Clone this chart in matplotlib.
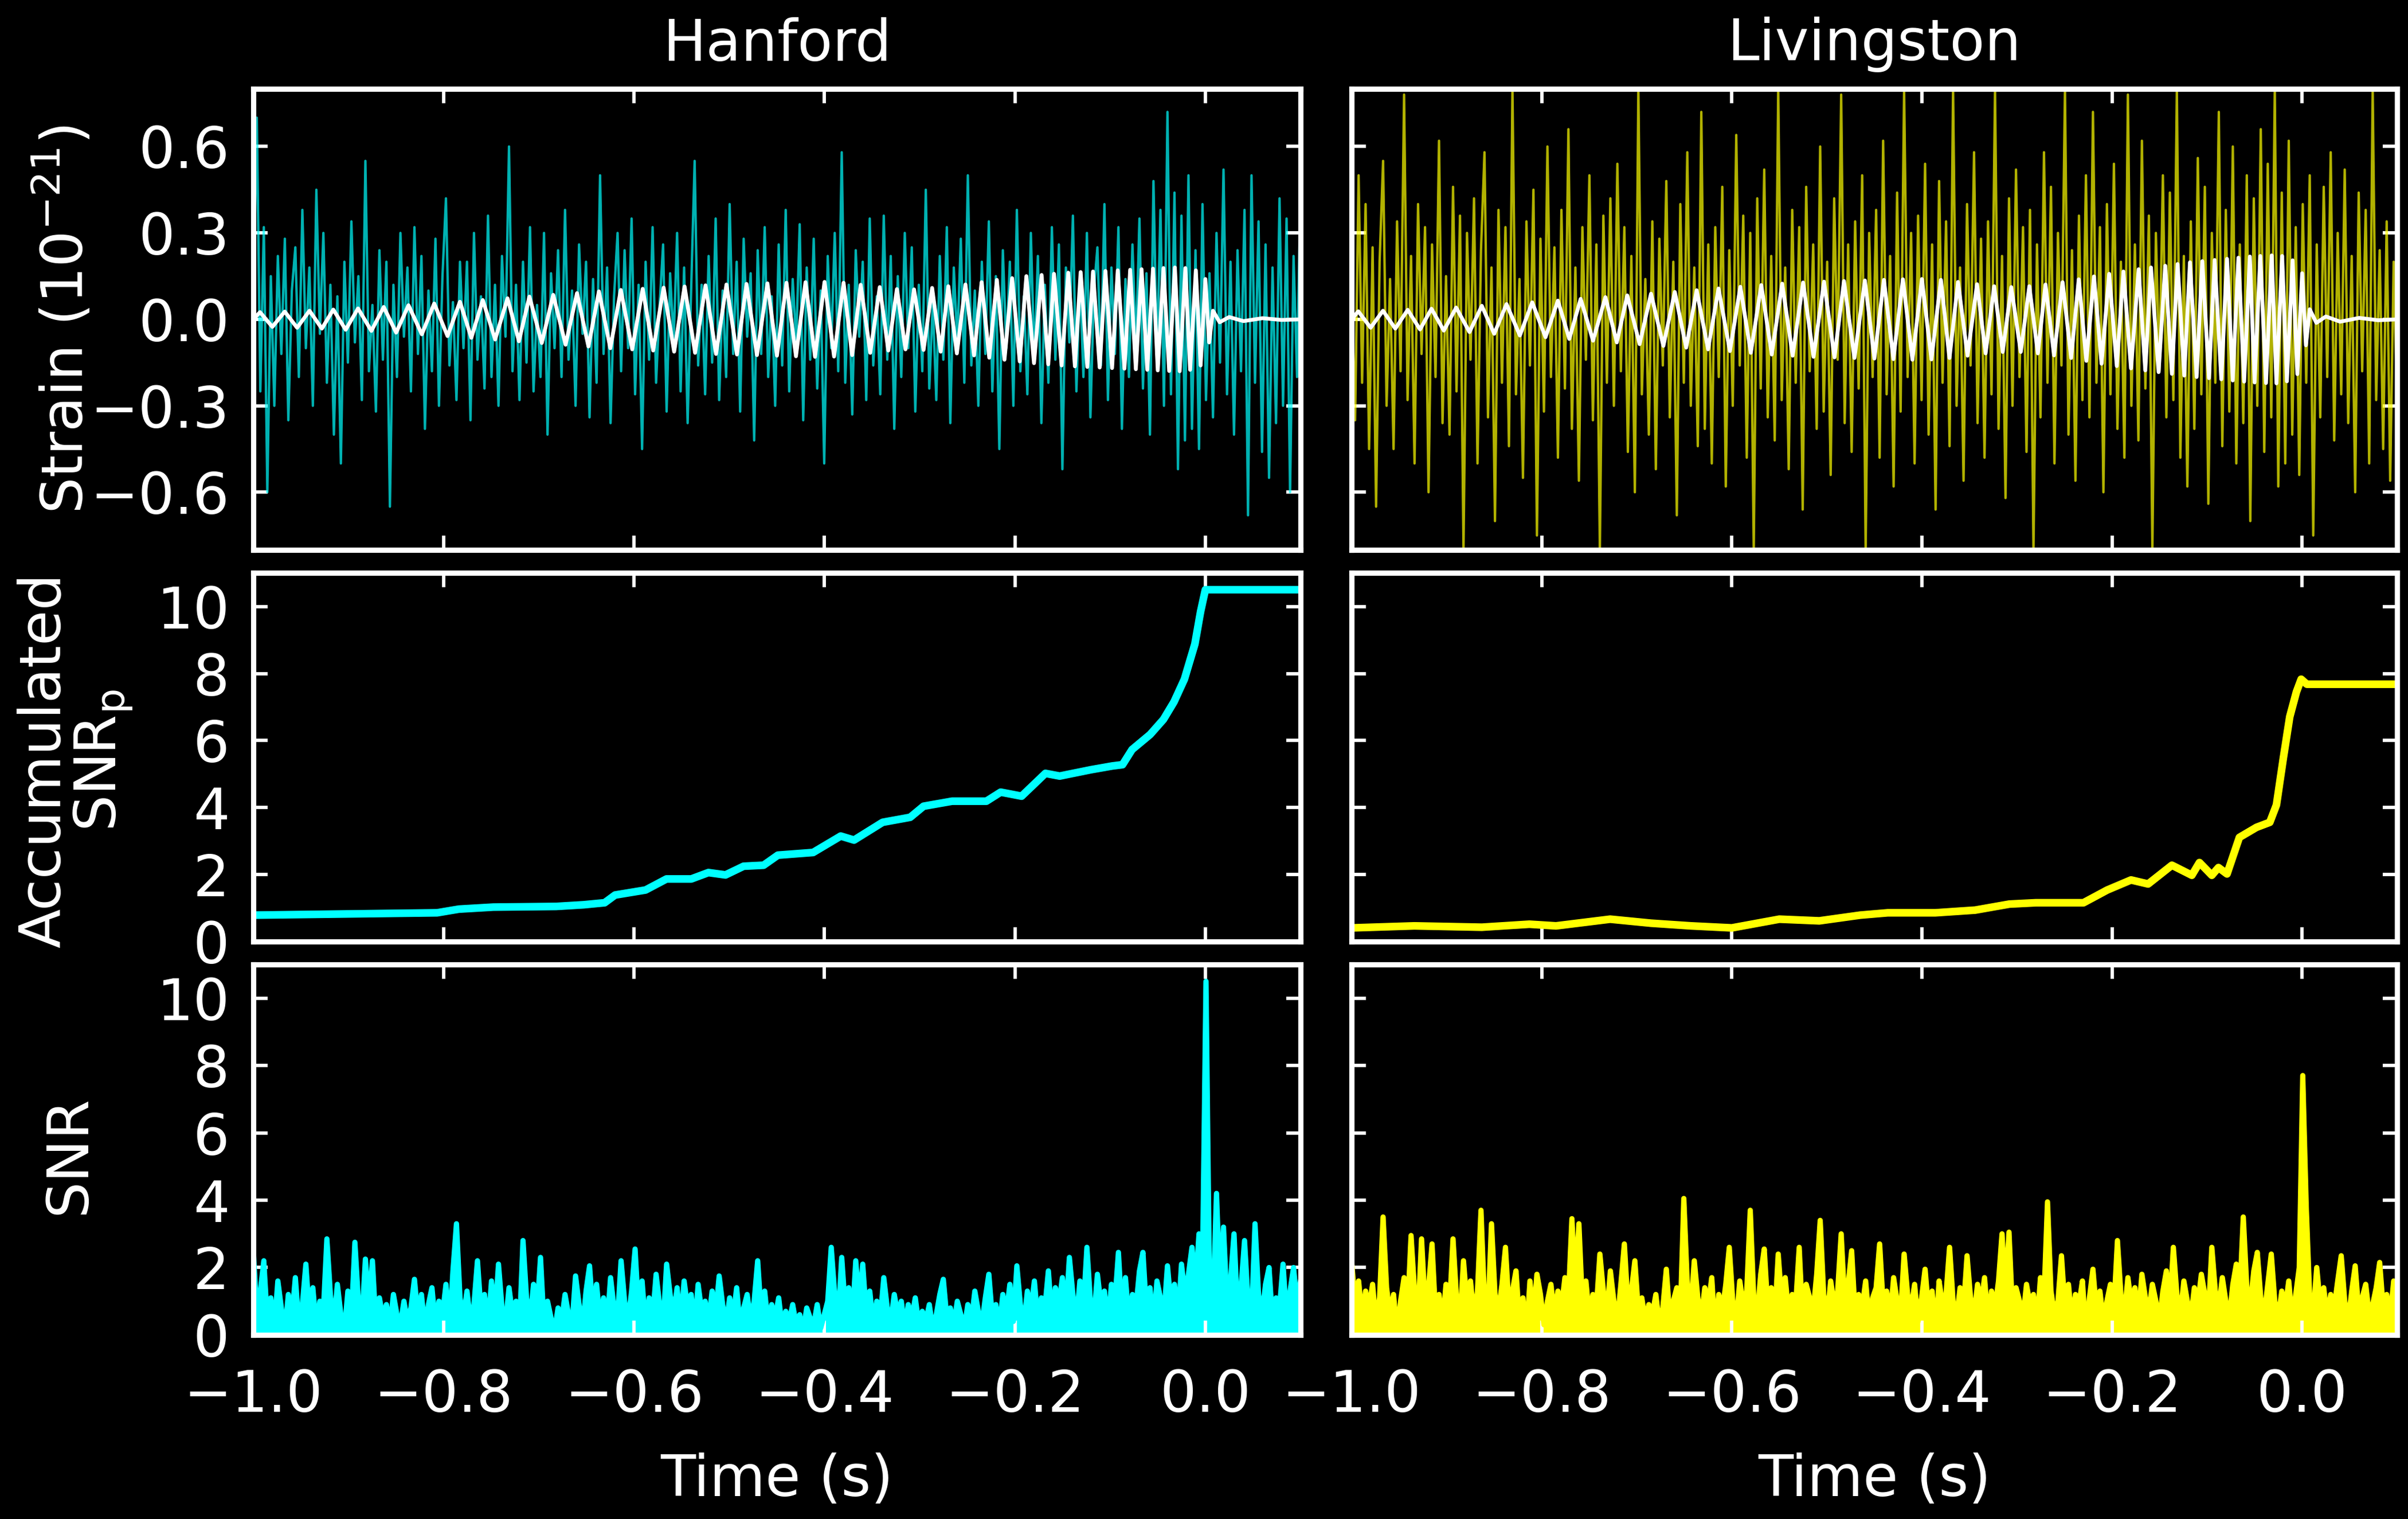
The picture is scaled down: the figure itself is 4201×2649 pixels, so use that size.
import numpy as np
import matplotlib
matplotlib.use("Agg")
import matplotlib.pyplot as plt

# ---- data ----
detectors = ["Hanford", "Livingston"]
colors = ["#00ffff", "#ffff00"]

# whitened strain (1e-21), sampled evenly over -1.0 .. 0.1 s
h_strain = [
    0.05, 0.7, -0.25, 0.32, -0.6, 0.15, -0.3, 0.22, -0.12, 0.28, -0.35, 0.1, 0.25, -0.2, 0.38,
    -0.1, 0.18, -0.3, 0.45, -0.05, 0.3, -0.22, 0.12, -0.4, 0.08, -0.5, 0.2, -0.15, 0.34, -0.08,
    0.15, -0.28, 0.55, -0.18, 0.05, -0.32, 0.24, -0.14, 0.2, -0.65, 0.12, -0.2, 0.3, -0.06, 0.18,
    -0.25, 0.32, -0.12, 0.22, -0.38, 0.1, -0.18, 0.28, -0.3, 0.15, 0.42, -0.16, 0.06, -0.28, 0.2,
    -0.1, 0.2, -0.35, 0.3, -0.14, 0.08, -0.24, 0.36, -0.2, 0.12, -0.3, 0.22, -0.06, 0.6, -0.18,
    0.12, -0.28, 0.2, -0.15, 0.32, -0.25, 0.05, -0.2, 0.3, -0.4, 0.16, -0.1, 0.24, -0.2, 0.38,
    -0.14, 0.1, -0.3, 0.26, -0.05, 0.2, -0.34, 0.14, -0.22, 0.5, -0.12, 0.18, -0.36, 0.08, 0.3,
    -0.18, 0.24, -0.1, 0.35, -0.26, 0.12, -0.45, 0.2, -0.14, 0.32, -0.22, 0.05, 0.26, -0.32, 0.16,
    -0.08, 0.3, -0.25, 0.18, -0.36, 0.1, 0.55, -0.16, 0.12, -0.26, 0.22, -0.15, 0.35, -0.28, 0.1,
    -0.2, 0.4, -0.12, 0.2, -0.32, 0.28, -0.06, 0.16, -0.42, 0.24, -0.12, 0.32, -0.2, 0.08, -0.3,
    0.26, -0.16, 0.38, -0.25, 0.14, -0.08, 0.33, -0.35, 0.18, -0.14, 0.28, -0.24, 0.1, -0.5, 0.22,
    -0.1, 0.3, -0.18, 0.58, -0.22, 0.12, -0.33, 0.24, -0.06, 0.2, -0.28, 0.35, -0.16, 0.08, -0.26,
    0.36, -0.14, 0.22, -0.38, 0.15, -0.2, 0.3, -0.1, 0.25, -0.32, 0.12, -0.18, 0.45, -0.24, 0.06,
    -0.28, 0.22, -0.14, 0.32, -0.36, 0.18, -0.08, 0.28, -0.22, 0.5, -0.16, 0.1, -0.3, 0.2, -0.12,
    0.34, -0.25, 0.15, -0.45, 0.24, -0.1, 0.2, -0.3, 0.38, -0.18, 0.08, -0.26, 0.3, -0.15, 0.22,
    -0.36, 0.12, -0.22, 0.32, -0.14, 0.26, -0.52, 0.18, -0.08, 0.36, -0.25, 0.14, -0.2, 0.3, -0.34,
    0.1, 0.25, -0.16, 0.4, -0.28, 0.18, -0.12, 0.32, -0.38, 0.14, -0.2, 0.26, -0.1, 0.35, -0.24,
    0.16, -0.4, 0.48, -0.14, 0.38, -0.3, 0.72, -0.26, 0.44, -0.52, 0.36, -0.42, 0.5, -0.38, 0.24,
    -0.45, 0.4, -0.28, 0.16, -0.34, 0.3, -0.15, 0.52, -0.26, 0.2, -0.4, 0.24, -0.18, 0.38, -0.68,
    0.5, -0.22, 0.34, -0.46, 0.26, -0.55, 0.18, -0.36, 0.42, -0.3, 0.35, -0.6, 0.22, -0.2, 0.48,
]
l_strain = [
    0.1, -0.35, 0.5, -0.22, 0.4, -0.45, 0.25, -0.65, 0.2, 0.55, -0.3, 0.14, -0.45, 0.34, -0.18,
    0.78, -0.28, 0.22, -0.5, 0.4, -0.12, 0.32, -0.6, 0.26, -0.2, 0.62, -0.36, 0.15, -0.4, 0.46,
    -0.25, 0.36, -0.8, 0.3, -0.14, 0.42, -0.5, 0.24, 0.58, -0.34, 0.18, -0.7, 0.38, -0.22, 0.32,
    -0.44, 0.8, -0.26, 0.14, -0.55, 0.34, -0.16, 0.45, -0.75, 0.28, -0.32, 0.6, -0.2, 0.25, -0.48,
    0.38, -0.24, 0.66, -0.38, 0.18, -0.56, 0.32, -0.14, 0.5, -0.35, 0.26, -0.8, 0.36, -0.22, 0.42,
    -0.3, 0.54, -0.18, 0.32, -0.46, 0.22, -0.6, 0.8, -0.26, 0.14, -0.4, 0.34, -0.52, 0.28, -0.16,
    0.48, -0.34, 0.2, -0.68, 0.4, -0.22, 0.58, -0.3, 0.18, -0.44, 0.72, -0.38, 0.26, -0.5, 0.32,
    -0.2, 0.46, -0.58, 0.24, -0.3, 0.64, -0.16, 0.36, -0.48, 0.3, -0.8, 0.42, -0.24, 0.52, -0.34,
    0.22, -0.42, 0.8, -0.28, 0.18, -0.52, 0.38, -0.22, 0.32, -0.66, 0.46, -0.18, 0.26, -0.38, 0.6,
    -0.32, 0.2, -0.54, 0.42, -0.14, 0.78, -0.36, 0.26, -0.46, 0.34, -0.24, 0.5, -0.8, 0.3, -0.2,
    0.38, -0.48, 0.62, -0.26, 0.22, -0.58, 0.44, -0.32, 0.8, -0.2, 0.3, -0.5, 0.36, -0.28, 0.54,
    -0.4, 0.26, -0.66, 0.48, -0.22, 0.34, -0.44, 0.8, -0.3, 0.18, -0.56, 0.4, -0.16, 0.58, -0.36,
    0.28, -0.48, 0.34, -0.26, 0.8, -0.38, 0.22, -0.62, 0.42, -0.3, 0.52, -0.2, 0.32, -0.46, 0.38,
    -0.8, 0.26, -0.34, 0.58, -0.22, 0.46, -0.5, 0.3, -0.16, 0.8, -0.4, 0.24, -0.56, 0.36, -0.28,
    0.5, -0.34, 0.72, -0.22, 0.32, -0.6, 0.4, -0.26, 0.54, -0.38, 0.2, -0.48, 0.78, -0.3, 0.26,
    -0.42, 0.62, -0.24, 0.36, -0.8, 0.3, -0.18, 0.5, -0.34, 0.44, -0.28, 0.8, -0.48, 0.22, -0.58,
    0.34, -0.38, 0.56, -0.26, 0.46, -0.64, 0.3, -0.22, 0.72, -0.44, 0.38, -0.32, 0.6, -0.5, 0.26,
    -0.36, 0.5, -0.7, 0.42, -0.3, 0.66, -0.46, 0.54, -0.34, 0.8, -0.58, 0.44, -0.5, 0.62, -0.4,
    0.32, -0.54, 0.4, -0.22, 0.5, -0.75, 0.26, -0.34, 0.46, -0.2, 0.58, -0.42, 0.3, -0.26, 0.52,
    -0.36, 0.22, -0.6, 0.44, -0.18, 0.38, -0.5, 0.8, -0.28, 0.24, -0.45, 0.34, -0.56, 0.2, -0.32,
]

# template: times of its turning points and the values there
chirp_t = [
    -1.000, -0.993, -0.980, -0.967, -0.954, -0.941, -0.928, -0.916, -0.903, -0.890,
    -0.876, -0.863, -0.850, -0.837, -0.823, -0.810, -0.796, -0.783, -0.771, -0.759,
    -0.746, -0.733, -0.721, -0.710, -0.697, -0.685, -0.672, -0.660, -0.648, -0.637,
    -0.625, -0.614, -0.602, -0.591, -0.580, -0.569, -0.558, -0.547, -0.536, -0.525,
    -0.514, -0.503, -0.492, -0.482, -0.471, -0.460, -0.450, -0.440, -0.430, -0.420,
    -0.410, -0.400, -0.390, -0.380, -0.371, -0.362, -0.352, -0.342, -0.333, -0.324,
    -0.315, -0.306, -0.296, -0.287, -0.278, -0.270, -0.261, -0.252, -0.243, -0.235,
    -0.227, -0.219, -0.211, -0.203, -0.195, -0.188, -0.180, -0.172, -0.165, -0.159,
    -0.151, -0.144, -0.137, -0.131, -0.124, -0.118, -0.111, -0.105, -0.098, -0.092,
    -0.085, -0.079, -0.073, -0.067, -0.061, -0.055, -0.050, -0.044, -0.038, -0.032,
    -0.027, -0.021, -0.016, -0.010, -0.005, 0.000, 0.004, 0.008, 0.015, 0.025,
    0.040, 0.060, 0.080, 0.100,
]
h_chirp = [
    0.0,
    0.025, -0.026, 0.027, -0.029, 0.030, -0.032, 0.034, -0.036, 0.038, -0.040,
    0.043, -0.046, 0.049, -0.052, 0.055, -0.058, 0.061, -0.064, 0.067, -0.070,
    0.073, -0.076, 0.079, -0.082, 0.085, -0.088, 0.091, -0.094, 0.097, -0.100,
    0.102, -0.104, 0.106, -0.108, 0.110, -0.112, 0.114, -0.116, 0.118, -0.120,
    0.121, -0.122, 0.123, -0.124, 0.125, -0.126, 0.127, -0.128, 0.129, -0.130,
    0.130, -0.129, 0.127, -0.124, 0.120, -0.116, 0.112, -0.108, 0.105, -0.104,
    0.104, -0.106, 0.109, -0.112, 0.115, -0.118, 0.121, -0.125, 0.129, -0.133,
    0.137, -0.140, 0.143, -0.146, 0.150, -0.152, 0.154, -0.156, 0.158, -0.160,
    0.162, -0.163, 0.164, -0.165, 0.166, -0.167, 0.168, -0.169, 0.170, -0.171,
    0.172, -0.173, 0.174, -0.175, 0.176, -0.177, 0.178, -0.179, 0.180, -0.180,
    0.178, -0.175, 0.170, -0.160, 0.140, -0.080, 0.030, -0.010, 0.008, -0.006,
    0.004, -0.002, 0.0,
]
l_chirp = [
    0.0,
    0.028, -0.029, 0.030, -0.032, 0.033, -0.035, 0.037, -0.039, 0.041, -0.044,
    0.047, -0.050, 0.053, -0.056, 0.059, -0.062, 0.065, -0.068, 0.071, -0.074,
    0.077, -0.080, 0.083, -0.086, 0.089, -0.092, 0.095, -0.098, 0.101, -0.104,
    0.107, -0.110, 0.113, -0.116, 0.119, -0.122, 0.124, -0.126, 0.128, -0.130,
    0.131, -0.132, 0.133, -0.134, 0.135, -0.136, 0.137, -0.138, 0.139, -0.140,
    0.140, -0.139, 0.137, -0.134, 0.130, -0.126, 0.122, -0.118, 0.115, -0.113,
    0.112, -0.113, 0.115, -0.118, 0.121, -0.125, 0.129, -0.134, 0.139, -0.144,
    0.149, -0.154, 0.158, -0.162, 0.166, -0.170, 0.174, -0.177, 0.180, -0.183,
    0.186, -0.189, 0.192, -0.195, 0.198, -0.200, 0.202, -0.204, 0.206, -0.208,
    0.210, -0.212, 0.214, -0.216, 0.218, -0.219, 0.220, -0.221, 0.222, -0.222,
    0.220, -0.215, 0.205, -0.190, 0.160, -0.090, 0.035, -0.012, 0.010, -0.008,
    0.005, -0.003, 0.0,
]

# accumulated SNR_p
h_acc_t = [-1.0, -0.807, -0.784, -0.748, -0.682, -0.653, -0.631, -0.620, -0.588, -0.566,
           -0.540, -0.522, -0.504, -0.485, -0.464, -0.449, -0.412, -0.383, -0.369, -0.339,
           -0.310, -0.296, -0.266, -0.230, -0.215, -0.193, -0.168, -0.153, -0.120, -0.098,
           -0.087, -0.077, -0.058, -0.044, -0.033, -0.022, -0.011, -0.005, 0.0, 0.1]
h_acc = [0.79, 0.86, 0.97, 1.03, 1.05, 1.10, 1.16, 1.39, 1.54, 1.87,
         1.87, 2.06, 1.99, 2.25, 2.28, 2.58, 2.66, 3.15, 3.03, 3.56,
         3.71, 4.04, 4.19, 4.19, 4.46, 4.34, 5.02, 4.94, 5.13, 5.24,
         5.28, 5.73, 6.18, 6.63, 7.15, 7.83, 8.88, 9.85, 10.5, 10.5]
l_acc_t = [-1.0, -0.934, -0.863, -0.813, -0.785, -0.728, -0.685, -0.643, -0.600, -0.550,
           -0.508, -0.465, -0.436, -0.386, -0.344, -0.308, -0.280, -0.251, -0.230, -0.205,
           -0.180, -0.162, -0.137, -0.116, -0.108, -0.095, -0.088, -0.079, -0.066, -0.048,
           -0.034, -0.027, -0.020, -0.013, -0.006, -0.001, 0.005, 0.1]
l_acc = [0.41, 0.47, 0.43, 0.52, 0.47, 0.67, 0.55, 0.47, 0.41, 0.67,
         0.62, 0.79, 0.86, 0.86, 0.94, 1.12, 1.16, 1.16, 1.16, 1.54,
         1.84, 1.72, 2.28, 1.98, 2.36, 1.98, 2.21, 2.02, 3.11, 3.41,
         3.56, 4.08, 5.43, 6.71, 7.45, 7.83, 7.68, 7.68]

# SNR time series, sampled evenly over -1.0 .. 0.1 s
h_snr = [
    2.5, 0.6, 1.3, 2.2, 0.4, 1.1, 0.2, 1.6, 0.8, 0.1, 1.2, 0.5, 1.7, 0.3, 0.9, 2.1, 0.6, 1.4, 0.2, 1.0,
    0.7, 2.85, 1.2, 0.3, 1.5, 0.6, 0.1, 1.3, 0.5, 2.75, 1.0, 0.4, 2.25, 0.8, 2.2, 0.3, 1.1, 0.5, 0.9, 0.2,
    1.2, 0.6, 0.3, 1.0, 0.4, 0.8, 1.65, 0.5, 1.2, 0.2, 0.9, 1.4, 0.3, 1.0, 0.6, 1.5, 0.2, 1.9, 3.3, 1.1,
    0.5, 1.3, 0.4, 0.9, 2.2, 0.7, 1.2, 0.2, 1.6, 0.5, 2.1, 0.8, 0.3, 1.4, 0.6, 1.0, 0.2, 2.8, 1.1, 0.4,
    1.5, 0.7, 2.3, 0.3, 1.0, 0.5, 0.1, 0.8, 0.4, 1.2, 0.6, 0.3, 1.75, 0.9, 0.2, 1.3, 2.05, 0.6, 1.5, 0.4,
    1.1, 0.3, 1.7, 0.8, 0.5, 2.2, 1.0, 0.4, 1.3, 2.55, 0.7, 1.6, 0.2, 1.1, 0.5, 1.8, 0.9, 0.3, 2.1, 1.2,
    0.6, 1.4, 0.3, 1.6, 0.8, 1.2, 0.2, 1.5, 0.7, 1.0, 0.4, 1.3, 0.6, 1.75, 0.9, 0.3, 1.1, 0.5, 1.4, 0.2,
    0.8, 1.2, 0.4, 1.0, 2.2, 0.6, 1.3, 0.3, 0.9, 0.5, 1.1, 0.2, 0.7, 0.4, 0.9, 0.3, 0.6, 0.1, 0.8, 0.5,
    0.3, 0.9, 0.2, 0.6, 1.0, 2.6, 1.2, 0.5, 2.3, 0.8, 1.4, 0.4, 2.2, 0.9, 2.1, 0.6, 1.3, 0.3, 1.0, 0.5,
    1.7, 0.8, 0.4, 1.2, 0.6, 1.0, 0.2, 0.9, 0.5, 1.1, 0.3, 0.7, 0.4, 0.9, 0.2, 0.6, 1.2, 1.65, 0.5, 0.8,
    0.3, 1.0, 0.6, 0.2, 0.9, 0.4, 1.3, 0.7, 0.3, 1.1, 1.8, 0.5, 0.9, 0.2, 1.2, 0.6, 1.5, 0.4, 2.05, 0.9,
    0.3, 1.3, 0.7, 1.6, 0.4, 1.1, 0.8, 1.9, 0.5, 1.4, 0.9, 1.7, 0.6, 2.3, 1.2, 0.4, 1.6, 0.8, 2.6, 1.0,
    0.5, 1.8, 0.9, 1.3, 0.3, 1.5, 1.0, 2.45, 0.6, 1.7, 0.4, 1.2, 0.8, 1.9, 2.45, 0.7, 1.4, 0.3, 1.6, 1.1,
    0.6, 2.05, 0.9, 1.5, 0.4, 2.1, 1.2, 1.8, 2.6, 1.4, 3.0, 2.0, 10.5, 1.5, 0.8, 4.2, 1.3, 3.2, 0.9, 1.6,
    3.0, 0.7, 1.4, 2.8, 1.0, 0.5, 3.3, 1.2, 0.6, 1.5, 2.0, 0.4, 1.1, 0.8, 2.1, 0.5, 1.3, 2.0, 0.9, 1.6,
]
l_snr = [
    2.2, 0.9, 1.6, 0.5, 1.3, 0.8, 1.5, 0.3, 1.1, 3.5, 1.4, 0.6, 1.2, 0.0, 1.0, 1.7, 0.7, 2.95, 1.3, 0.5,
    2.85, 0.9, 1.4, 2.7, 0.6, 1.2, 0.3, 1.5, 0.8, 2.85, 1.1, 0.4, 2.2, 0.9, 1.6, 0.5, 1.3, 3.7, 1.0, 0.6,
    3.3, 1.2, 0.7, 1.5, 2.6, 0.8, 1.3, 1.9, 0.4, 1.1, 0.0, 1.6, 0.5, 1.8, 1.2, 0.3, 1.0, 1.5, 0.6, 1.3,
    0.8, 1.7, 1.1, 3.45, 1.4, 3.3, 0.9, 1.6, 0.5, 1.2, 0.8, 2.4, 1.3, 0.6, 1.9, 1.0, 0.4, 1.5, 2.7, 0.9,
    1.3, 2.2, 0.7, 1.1, 0.4, 0.9, 0.6, 1.2, 0.3, 0.8, 1.95, 0.5, 1.0, 1.4, 0.6, 4.05, 1.5, 0.8, 2.2, 1.1,
    0.5, 1.4, 0.9, 1.7, 0.0, 1.2, 0.7, 1.5, 2.6, 1.0, 0.4, 1.6, 0.9, 1.3, 3.7, 1.1, 0.6, 1.8, 2.55, 0.8,
    1.4, 0.5, 2.4, 1.0, 1.7, 0.6, 1.2, 0.9, 2.6, 0.4, 1.5, 1.1, 0.7, 1.8, 3.4, 1.2, 0.5, 1.6, 0.9, 1.3,
    3.0, 1.0, 1.5, 2.5, 0.6, 1.2, 0.8, 1.6, 0.4, 1.1, 1.4, 2.7, 0.9, 1.3, 0.5, 1.7, 1.0, 0.6, 2.4, 1.2,
    0.8, 1.5, 0.4, 1.1, 1.95, 0.7, 1.3, 0.0, 1.6, 0.9, 1.2, 2.6, 1.0, 0.5, 1.4, 0.8, 2.35, 1.1, 0.6, 1.5,
    0.9, 1.7, 0.4, 1.3, 0.8, 1.6, 3.0, 1.2, 3.05, 0.7, 1.4, 1.0, 0.5, 1.5, 0.9, 1.2, 0.3, 1.7, 1.1, 3.95,
    1.3, 0.6, 1.0, 2.35, 0.8, 1.5, 0.4, 1.2, 0.9, 1.6, 0.0, 1.1, 1.95, 0.7, 1.3, 0.4, 1.0, 1.5, 0.8, 2.8,
    1.2, 0.6, 1.7, 0.9, 1.4, 0.5, 1.8, 1.1, 0.7, 1.5, 1.0, 0.4, 1.3, 1.9, 0.8, 2.6, 1.2, 0.6, 1.6, 1.0,
    0.5, 1.4, 0.9, 1.8, 1.2, 0.6, 2.6, 1.3, 0.8, 1.7, 1.0, 0.5, 1.5, 2.1, 1.2, 3.5, 1.4, 0.9, 1.9, 2.45,
    1.1, 0.6, 1.5, 2.4, 1.0, 0.5, 1.3, 0.8, 1.6, 0.4, 1.2, 2.0, 7.7, 3.8, 1.1, 0.6, 2.0, 0.9, 1.4, 0.5,
    1.2, 0.8, 1.6, 2.35, 1.0, 0.4, 1.3, 2.05, 0.7, 1.1, 1.5, 0.6, 0.9, 1.4, 2.15, 0.8, 1.2, 0.5, 1.6, 1.0,
]

strains = [h_strain, l_strain]
chirps = [h_chirp, l_chirp]
acc_t = [h_acc_t, l_acc_t]
acc = [h_acc, l_acc]
snrs = [h_snr, l_snr]

# ---- figure ----
plt.rcParams["font.family"] = "DejaVu Sans"
plt.rcParams["font.size"] = 24

fig = plt.figure(figsize=(4201 / 300, 2649 / 300), dpi=300, facecolor="black")

col_x = [0.1052, 0.5613]
col_w = [0.4349, 0.4342]
row_y = [0.6380, 0.3801, 0.1212]
row_h = [0.3035, 0.2427, 0.2439]

for c in range(2):
    axes = [fig.add_axes([col_x[c], row_y[r], col_w[c], row_h[r]]) for r in range(3)]
    t_s = np.linspace(-1.0, 0.1, len(strains[c]))
    t_n = np.linspace(-1.0, 0.1, len(snrs[c]))

    # strain with the template on top
    axes[0].plot(t_s, strains[c], color=colors[c], alpha=0.7, lw=1.0)
    axes[0].plot(chirp_t, chirps[c], color="white", lw=1.6)
    axes[0].set_ylim(-0.8, 0.8)
    axes[0].set_yticks([-0.6, -0.3, 0.0, 0.3, 0.6])

    axes[1].plot(acc_t[c], acc[c], color=colors[c], lw=3.2)
    axes[1].set_ylim(0, 11)
    axes[1].set_yticks([0, 2, 4, 6, 8, 10])

    axes[2].fill_between(t_n, 0, snrs[c], color=colors[c], lw=0)
    axes[2].plot(t_n, snrs[c], color=colors[c], lw=2.2)
    axes[2].set_ylim(0, 11)
    axes[2].set_yticks([0, 2, 4, 6, 8, 10])

    for r, ax in enumerate(axes):
        ax.set_facecolor("black")
        ax.set_xlim(-1.0, 0.1)
        ax.set_xticks([-1.0, -0.8, -0.6, -0.4, -0.2, 0.0])
        for s in ax.spines.values():
            s.set_color("white")
            s.set_linewidth(2.2)
            s.set_zorder(5)
        ax.tick_params(direction="in", length=6, width=1.4, colors="white",
                       top=True, right=True, labelsize=24)
        ax.tick_params(axis="x", pad=14)
        ax.tick_params(axis="y", pad=10)
        if r < 2:
            ax.tick_params(labelbottom=False)
        if c == 1:
            ax.tick_params(labelleft=False)

    axes[0].set_title(detectors[c], color="white", fontsize=24, pad=12)
    axes[2].set_xlabel("Time (s)", color="white", fontsize=24, labelpad=12)

fig.text(0.0268, 0.7897, "Strain (10$^{-21}$)", color="white", rotation=90,
         ha="center", va="center", fontsize=24)
fig.text(0.0313, 0.4995, "Accumulated\nSNR$_\\mathrm{p}$", color="white", rotation=90,
         ha="center", va="center", fontsize=24, linespacing=1.0)
fig.text(0.0287, 0.2396, "SNR", color="white", rotation=90,
         ha="center", va="center", fontsize=24)

fig.savefig("out.png", dpi=300, facecolor="black")
